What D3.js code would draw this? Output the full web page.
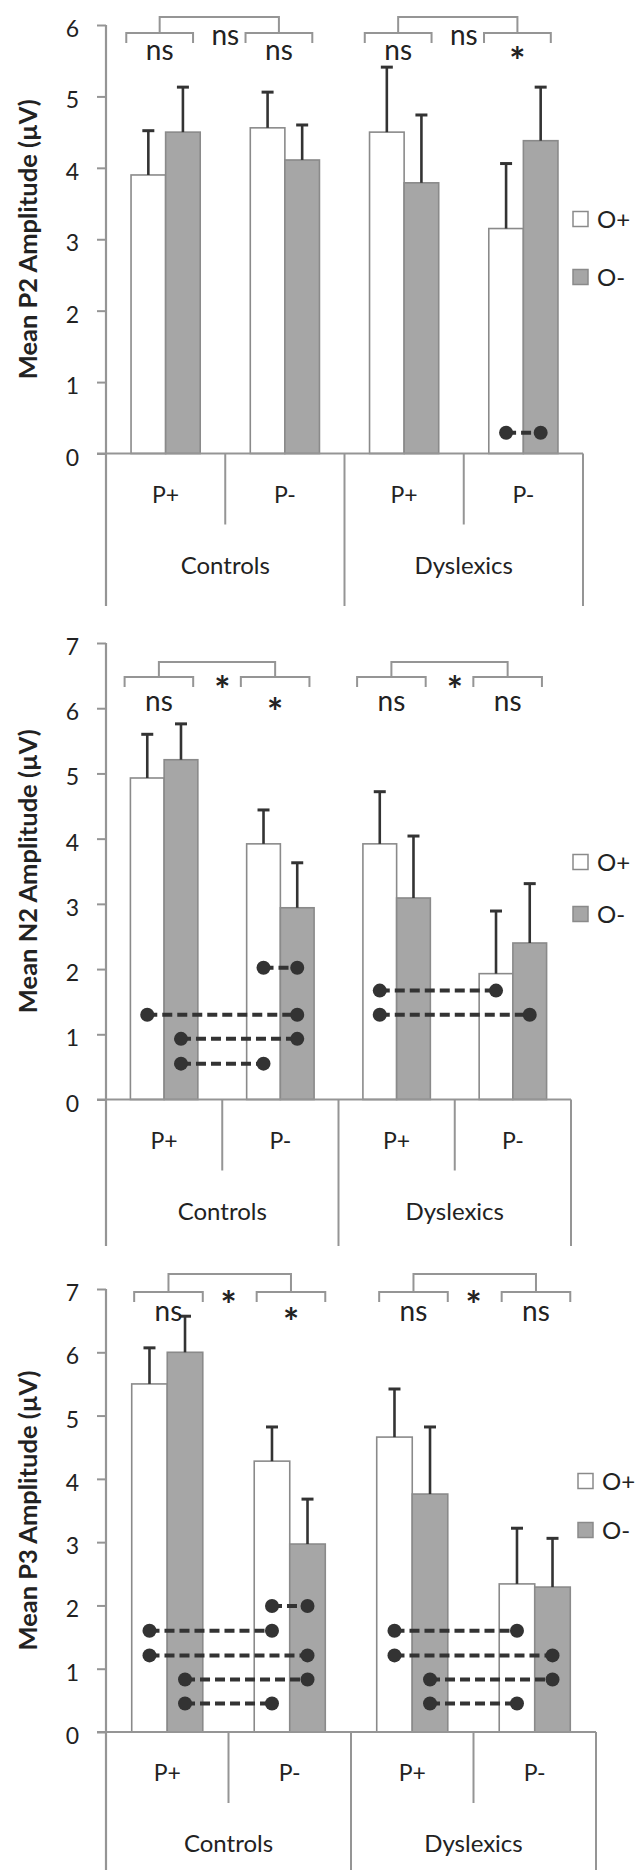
<!DOCTYPE html>
<html>
<head>
<meta charset="utf-8">
<script src="https://cdn.jsdelivr.net/npm/d3@7"></script>
<style>
  body { margin: 0; background: #fff; }
  svg { display: block; }
  text { font-family: Lato, "Open Sans", sans-serif; fill: #222; }
</style>
</head>
<body>
<svg id="chart" width="637" height="1870"></svg>
<script>
// ---- categories ----
const groups = ["Controls", "Dyslexics"];
const conditions = ["P+", "P-"];
const seriesNames = ["O+", "O-"];
const cells = ["Controls P+", "Controls P-", "Dyslexics P+", "Dyslexics P-"];

// ---- P2 amplitude (µV), order follows `cells` ----
const p2Ticks = [0, 1, 2, 3, 4, 5, 6];
const p2OPlus = [3.90, 4.56, 4.50, 3.15];
const p2OMinus = [4.50, 4.11, 3.79, 4.38];
const p2OPlusErr = [0.62, 0.50, 0.91, 0.91];
const p2OMinusErr = [0.63, 0.49, 0.95, 0.75];
const p2WithinSig = [["ns", "ns"], ["ns", "*"]];   // O+ vs O- inside each P condition
const p2BetweenSig = ["ns", "ns"];                 // P+ vs P- inside each group
// [cell, series] -> [cell, series] at a given height
const p2Links = [[3, 0, 3, 1, 0.29]];

// ---- N2 amplitude (µV) ----
const n2Ticks = [0, 1, 2, 3, 4, 5, 6, 7];
const n2OPlus = [4.93, 3.92, 3.92, 1.93];
const n2OMinus = [5.21, 2.94, 3.09, 2.40];
const n2OPlusErr = [0.67, 0.52, 0.80, 0.96];
const n2OMinusErr = [0.55, 0.69, 0.95, 0.91];
const n2WithinSig = [["ns", "*"], ["ns", "ns"]];
const n2BetweenSig = ["*", "*"];
const n2Links = [
  [1, 0, 1, 1, 2.02],
  [0, 0, 1, 1, 1.30],
  [0, 1, 1, 1, 0.93],
  [0, 1, 1, 0, 0.55],
  [2, 0, 3, 0, 1.67],
  [2, 0, 3, 1, 1.30]
];

// ---- P3 amplitude (µV) ----
const p3Ticks = [0, 1, 2, 3, 4, 5, 6, 7];
const p3OPlus = [5.50, 4.28, 4.66, 2.34];
const p3OMinus = [6.00, 2.97, 3.76, 2.29];
const p3OPlusErr = [0.57, 0.54, 0.76, 0.88];
const p3OMinusErr = [0.57, 0.71, 1.06, 0.77];
const p3WithinSig = [["ns", "*"], ["ns", "ns"]];
const p3BetweenSig = ["*", "*"];
const p3Links = [
  [1, 0, 1, 1, 1.99],
  [0, 0, 1, 0, 1.60],
  [0, 0, 1, 1, 1.21],
  [0, 1, 1, 1, 0.83],
  [0, 1, 1, 0, 0.45],
  [2, 0, 3, 0, 1.60],
  [2, 0, 3, 1, 1.21],
  [2, 1, 3, 1, 0.83],
  [2, 1, 3, 0, 0.45]
];

// ---- panel layout ----
const axisX = 106;
const panels = [
  { title: "Mean P2 Amplitude (µV)", ticks: p2Ticks,
    means: [p2OPlus, p2OMinus], errs: [p2OPlusErr, p2OMinusErr],
    within: p2WithinSig, between: p2BetweenSig, links: p2Links,
    top: 25, base: 453.5, right: 583, boxBottom: 606,
    bracketY: 17, bracketDrop: 16, subDy: 19, span: [0.17, 0.73],
    legendX: 573, legendY: 219, legendGap: 58 },
  { title: "Mean N2 Amplitude (µV)", ticks: n2Ticks,
    means: [n2OPlus, n2OMinus], errs: [n2OPlusErr, n2OMinusErr],
    within: n2WithinSig, between: n2BetweenSig, links: n2Links,
    top: 643, base: 1099.5, right: 571, boxBottom: 1246,
    bracketY: 662, bracketDrop: 15, subDy: 26, span: [0.16, 0.75],
    legendX: 573, legendY: 862, legendGap: 52 },
  { title: "Mean P3 Amplitude (µV)", ticks: p3Ticks,
    means: [p3OPlus, p3OMinus], errs: [p3OPlusErr, p3OMinusErr],
    within: p3WithinSig, between: p3BetweenSig, links: p3Links,
    top: 1289, base: 1732, right: 596, boxBottom: 1880,
    bracketY: 1274, bracketDrop: 18, subDy: 21, span: [0.23, 0.79],
    legendX: 578, legendY: 1481, legendGap: 49 }
];

const axisGray = "#959595";
const barGray = "#a6a6a6";
const ink = "#333333";
const fills = ["#ffffff", barGray];

const svg = d3.select("#chart");
panels.forEach(drawPanel);

function drawPanel(p) {
  const g = svg.append("g");
  const x = d3.scaleBand().domain(cells).range([axisX, p.right]);
  const bw = x.bandwidth();
  const xs = d3.scaleBand().domain(seriesNames).range([0, bw])
    .paddingInner(0).paddingOuter(0.724);
  const y = d3.scaleLinear().domain([0, d3.max(p.ticks)]).range([p.base, p.top]);
  const cx = (ci, si) => x(cells[ci]) + xs(seriesNames[si]) + xs.bandwidth() / 2;

  // y axis ticks and labels
  const yAxis = d3.axisLeft(y).tickValues(p.ticks).tickSize(9).tickSizeOuter(0)
    .tickPadding(18).tickFormat(d3.format("d"));
  const ga = g.append("g").attr("transform", `translate(${axisX},0)`).call(yAxis);
  ga.select(".domain").remove();
  ga.selectAll(".tick line").attr("stroke", axisGray).attr("stroke-width", 2);
  ga.selectAll(".tick text").attr("font-size", 23).attr("fill", "#222")
    .attr("font-family", "Lato, sans-serif").attr("dy", "0.5em");

  // y axis title
  g.append("text")
    .attr("transform", `translate(37,${(p.top + p.base) / 2}) rotate(-90)`)
    .attr("text-anchor", "middle")
    .attr("font-size", 25.5).attr("font-weight", "bold")
    .text(p.title);

  // bars
  const barData = [];
  cells.forEach((c, ci) => seriesNames.forEach((s, si) => {
    barData.push({ ci, si, v: p.means[si][ci], e: p.errs[si][ci] });
  }));
  g.selectAll("rect.bar").data(barData).join("rect")
    .attr("class", "bar")
    .attr("x", d => x(cells[d.ci]) + xs(seriesNames[d.si]))
    .attr("width", xs.bandwidth())
    .attr("y", d => y(d.v))
    .attr("height", d => y(0) - y(d.v))
    .attr("fill", d => fills[d.si])
    .attr("stroke", "#8a8a8a").attr("stroke-width", 1.6);

  // error bars (upper only)
  const eb = g.selectAll("g.err").data(barData).join("g").attr("class", "err");
  eb.append("line")
    .attr("x1", d => cx(d.ci, d.si)).attr("x2", d => cx(d.ci, d.si))
    .attr("y1", d => y(d.v)).attr("y2", d => y(d.v + d.e))
    .attr("stroke", ink).attr("stroke-width", 2.6);
  eb.append("line")
    .attr("x1", d => cx(d.ci, d.si) - 6).attr("x2", d => cx(d.ci, d.si) + 6)
    .attr("y1", d => y(d.v + d.e)).attr("y2", d => y(d.v + d.e))
    .attr("stroke", ink).attr("stroke-width", 3);

  // baseline and category box
  g.append("line").attr("x1", axisX - 9).attr("x2", p.right)
    .attr("y1", y(0)).attr("y2", y(0))
    .attr("stroke", axisGray).attr("stroke-width", 2.2);
  g.append("line").attr("x1", axisX).attr("x2", axisX)
    .attr("y1", p.top).attr("y2", p.boxBottom)
    .attr("stroke", axisGray).attr("stroke-width", 2.2);
  const dividers = cells.map((c, i) => ({ x: i < cells.length - 1 ? x(cells[i + 1]) : p.right, long: i % 2 === 1 }));
  g.selectAll("line.div").data(dividers).join("line")
    .attr("class", "div")
    .attr("x1", d => d.x).attr("x2", d => d.x)
    .attr("y1", y(0)).attr("y2", d => d.long ? p.boxBottom : y(0) + 71)
    .attr("stroke", axisGray).attr("stroke-width", 2);

  g.selectAll("text.cond").data(cells).join("text")
    .attr("class", "cond")
    .attr("x", c => x(c) + bw / 2).attr("y", y(0) + 41)
    .attr("dy", "0.35em").attr("text-anchor", "middle")
    .attr("font-size", 23)
    .text((c, i) => conditions[i % 2]);
  g.selectAll("text.grp").data(groups).join("text")
    .attr("class", "grp")
    .attr("x", (gname, gi) => x(cells[gi * 2 + 1]))
    .attr("y", y(0) + 112)
    .attr("dy", "0.35em").attr("text-anchor", "middle")
    .attr("font-size", 24)
    .text(gname => gname);

  // significance brackets
  const low = p.bracketY + p.bracketDrop;
  groups.forEach((gname, gi) => {
    const centers = [];
    conditions.forEach((cond, k) => {
      const ci = gi * 2 + k;
      const x0 = x(cells[ci]) + bw * p.span[0];
      const x1 = x(cells[ci]) + bw * p.span[1];
      centers.push((x0 + x1) / 2);
      g.append("path")
        .attr("d", `M${x0},${low + 10}V${low}H${x1}V${low + 10}`)
        .attr("fill", "none").attr("stroke", axisGray).attr("stroke-width", 2);
      sigLabel(g, (x0 + x1) / 2, low + p.subDy, p.within[gi][k]);
    });
    g.append("path")
      .attr("d", `M${centers[0]},${low}V${p.bracketY}H${centers[1]}V${low}`)
      .attr("fill", "none").attr("stroke", axisGray).attr("stroke-width", 2);
    sigLabel(g, x(cells[gi * 2 + 1]), low + 4, p.between[gi]);
  });

  // paired comparisons: dashed connectors with end dots
  p.links.forEach(([c1, s1, c2, s2, v]) => {
    const xa = cx(c1, s1), xb = cx(c2, s2), yy = y(v);
    g.append("line").attr("x1", xa).attr("x2", xb).attr("y1", yy).attr("y2", yy)
      .attr("stroke", ink).attr("stroke-width", 4).attr("stroke-dasharray", "10,5");
    [xa, xb].forEach(xx => g.append("circle").attr("cx", xx).attr("cy", yy)
      .attr("r", 7).attr("fill", ink));
  });

  // legend
  seriesNames.forEach((s, si) => {
    const cy = p.legendY + si * p.legendGap;
    g.append("rect").attr("x", p.legendX).attr("y", cy - 7.5)
      .attr("width", 15).attr("height", 15)
      .attr("fill", fills[si]).attr("stroke", "#8a8a8a").attr("stroke-width", 1.5);
    g.append("text").attr("x", p.legendX + 24).attr("y", cy)
      .attr("dy", "0.36em").attr("font-size", 24).text(s);
  });
}

function sigLabel(g, xx, yy, label) {
  const star = label === "*";
  g.append("text")
    .attr("x", xx).attr("y", yy)
    .attr("dy", star ? "0.6em" : "0.3em")
    .attr("text-anchor", "middle")
    .attr("font-size", star ? 38 : 28)
    .attr("font-weight", star ? "bold" : "normal")
    .attr("font-family", "'Liberation Sans', Arial, sans-serif")
    .text(label);
}
</script>
</body>
</html>
